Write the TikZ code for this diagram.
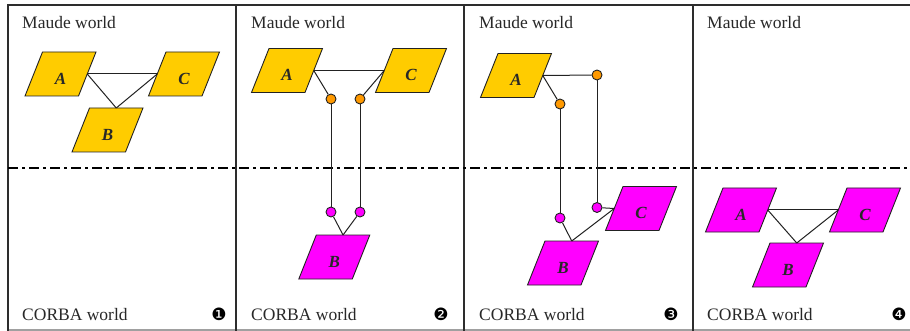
\documentclass[tikz,border=0pt]{standalone}
\usepackage{fontspec}
\setmainfont{Liberation Serif}
\newfontfamily\dingfont{DejaVu Sans}
\usetikzlibrary{calc}
\definecolor{myyellow}{RGB}{255,204,0}
\definecolor{mymagenta}{RGB}{255,0,255}
\definecolor{myorange}{RGB}{255,153,0}
\definecolor{linec}{RGB}{34,34,34}
\definecolor{textc}{RGB}{40,40,40}
\definecolor{framec}{RGB}{45,45,45}
\definecolor{bottomc}{RGB}{160,160,160}
% name, position, fill, label
\newcommand\parabox[4]{%
  \filldraw[draw=linec, line width=0.9pt, fill=#3, shift={(#2)}]
    (-35.5,22) -- (18,22) -- (35.5,-22) -- (-18,-22) -- cycle;
  \node[paratext] (#1) at ($(#2)+(0,4.5)$) {#4};
  \coordinate (#1-r) at ($(#2)+(26.75,0)$);
  \coordinate (#1-l) at ($(#2)+(-26.75,0)$);
  \coordinate (#1-t) at ($(#2)+(8.75,-22)$);
}
\begin{document}
\begin{tikzpicture}[x=1pt,y=-1pt,
  paratext/.style={inner sep=0pt,
    font=\fontsize{17}{19}\selectfont\bfseries\itshape, text=textc},
  port/.style={circle, draw=linec, line width=0.9pt, minimum size=10pt, inner sep=0pt},
  oport/.style={port, fill=myorange},
  mport/.style={port, fill=mymagenta},
  conn/.style={draw=linec, line width=1pt},
  lbl/.style={font=\fontsize{17.5}{20}\selectfont, text=textc, inner sep=0pt, anchor=base west},
  num/.style={font=\dingfont\fontsize{17}{19}\selectfont, text=black, inner sep=0pt}
]
\useasboundingbox[fill=white] (0,0) rectangle (910,331);
% frame
\draw[bottomc, line width=1.5pt] (7,330) -- (910,330);
\draw[framec, line width=2pt] (7.5,331) -- (7.5,5) -- (910,5);
\foreach \xx in {236,464,693} \draw[framec, line width=2pt] (\xx,5) -- (\xx,331);
\draw[black, line width=1.8pt, dash pattern=on 10pt off 4pt on 3pt off 4pt] (8,168) -- (910,168);
% texts
\node[lbl] (mw1) at (22,28.3) {Maude world};
\node[lbl] (mw2) at (251,28.3) {Maude world};
\node[lbl] (mw3) at (479,28.3) {Maude world};
\node[lbl] (mw4) at (707,28.3) {Maude world};
\node[lbl] (cw1) at (22,320) {CORBA world};
\node[lbl] (cw2) at (251,320) {CORBA world};
\node[lbl] (cw3) at (479,320) {CORBA world};
\node[lbl] (cw4) at (707,320) {CORBA world};
\node[num] (n1) at (219,314) {❶};
\node[num] (n2) at (441,314) {❷};
\node[num] (n3) at (671,314) {❸};
\node[num] (n4) at (899,314) {❹};
% panel 1
\parabox{a1}{60.5,74}{myyellow}{A}
\parabox{b1}{107.5,130}{myyellow}{B}
\parabox{c1}{184,74}{myyellow}{C}
\draw[conn] (a1-r) -- (c1-l);
\draw[conn] (a1-r) -- (b1-t);
\draw[conn] (c1-l) -- (b1-t);
% panel 2
\parabox{a2}{287,70.5}{myyellow}{A}
\parabox{c2}{411,70.5}{myyellow}{C}
\parabox{b2}{334.3,257}{mymagenta}{B}
\node[oport] (o1) at (331,99) {};
\node[oport] (o2) at (360,99) {};
\node[mport] (m1) at (331,212) {};
\node[mport] (m2) at (360,212) {};
\draw[conn] (a2-r) -- (c2-l);
\draw[conn] (a2-r) -- (o1);
\draw[conn] (c2-l) -- (o2);
\draw[conn] (o1) -- (m1);
\draw[conn] (o2) -- (m2);
\draw[conn] (m1) -- (b2-t);
\draw[conn] (m2) -- (b2-t);
% panel 3
\parabox{a3}{516,75.5}{myyellow}{A}
\parabox{b3}{563,263}{mymagenta}{B}
\parabox{c3}{641,208.5}{mymagenta}{C}
\node[oport] (p1) at (560,104) {};
\node[oport] (p2) at (597,75) {};
\node[mport] (q1) at (560,218) {};
\node[mport] (q2) at (597,207.5) {};
\draw[conn] (a3-r) -- (p2);
\draw[conn] (a3-r) -- (p1);
\draw[conn] (p1) -- (q1);
\draw[conn] (p2) -- (q2);
\draw[conn] (q2) -- (c3-l);
\draw[conn] (q1) -- (b3-t);
\draw[conn] (c3-l) -- (b3-t);
% panel 4
\parabox{a4}{741,210}{mymagenta}{A}
\parabox{b4}{788,265}{mymagenta}{B}
\parabox{c4}{865,210}{mymagenta}{C}
\draw[conn] (a4-r) -- (c4-l);
\draw[conn] (a4-r) -- (b4-t);
\draw[conn] (c4-l) -- (b4-t);
\end{tikzpicture}
\end{document}
